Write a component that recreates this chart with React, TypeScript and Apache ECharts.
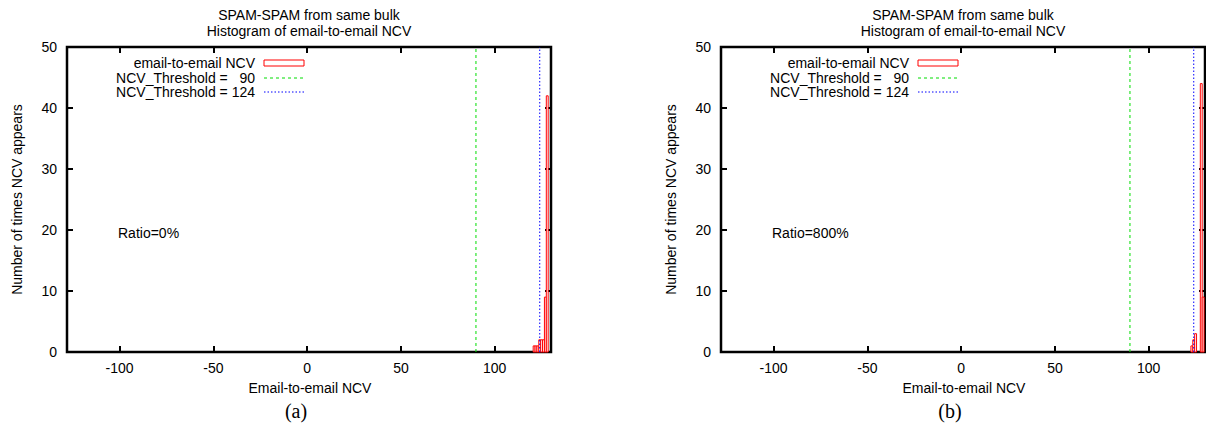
import React, { useEffect, useRef } from "react";
import * as echarts from "echarts";

// ---- data ----
const xMin = -128;
const xMax = 130;
const yMax = 50;
const binsA = [121, 122, 123, 124, 125, 126, 127, 128];
const countsA = [1, 1, 1, 2, 2, 2, 9, 42];
const binsB = [123, 124, 125, 128, 129];
const countsB = [1, 2, 3, 44, 9];
const threshold1 = 90;
const threshold2 = 124;
const titleLines = ["SPAM-SPAM from same bulk", "Histogram of email-to-email NCV"];
const xName = "Email-to-email NCV";
const yName = "Number of times NCV appears";
const legendLabels = ["email-to-email NCV", "NCV_Threshold =   90", "NCV_Threshold = 124"];
const ratioLabels = ["Ratio=0%", "Ratio=800%"];
const panelLabels = ["(a)", "(b)"];

const FONT = '"Liberation Sans", Arial, Helvetica, sans-serif';
const RED = "#ff0000";
const GREEN = "#00dd00";
const BLUE = "#0000ff";

const panels = [
  { left: 67, bins: binsA, counts: countsA, ratio: ratioLabels[0], label: panelLabels[0] },
  { left: 721, bins: binsB, counts: countsB, ratio: ratioLabels[1], label: panelLabels[1] },
];
const GRID_W = 484;
const GRID_TOP = 47;
const GRID_H = 305;

export default function App() {
  const ref = useRef<HTMLDivElement>(null);
  useEffect(() => {
    if (!ref.current) return;
    const chart = echarts.init(ref.current, null, { renderer: "svg" });
    const grids: any[] = [];
    const xAxes: any[] = [];
    const yAxes: any[] = [];
    const series: any[] = [];
    const graphic: any[] = [];

    panels.forEach((p, i) => {
      grids.push({
        left: p.left,
        top: GRID_TOP,
        width: GRID_W,
        height: GRID_H,
        show: true,
        borderColor: "#000",
        borderWidth: 2.5,
        backgroundColor: "#fff",
      });
      const tick = { show: true, inside: true, length: 6, lineStyle: { color: "#000", width: 2 } };
      const noLine = { show: false, onZero: false };
      xAxes.push({
        type: "value",
        gridIndex: i,
        position: "bottom",
        min: xMin,
        max: xMax,
        splitLine: { show: false },
        axisLine: noLine,
        axisTick: tick,
        axisLabel: {
          color: "#000",
          fontSize: 14,
          fontFamily: FONT,
          margin: 9,
          showMinLabel: false,
          showMaxLabel: false,
        },
      });
      xAxes.push({
        type: "value",
        gridIndex: i,
        position: "top",
        min: xMin,
        max: xMax,
        splitLine: { show: false },
        axisLine: noLine,
        axisTick: tick,
        axisLabel: { show: false },
      });
      yAxes.push({
        type: "value",
        gridIndex: i,
        position: "left",
        min: 0,
        max: yMax,
        interval: 10,
        splitLine: { show: false },
        axisLine: noLine,
        axisTick: tick,
        axisLabel: { color: "#000", fontSize: 14, fontFamily: FONT, margin: 10 },
      });
      yAxes.push({
        type: "value",
        gridIndex: i,
        position: "right",
        min: 0,
        max: yMax,
        interval: 10,
        splitLine: { show: false },
        axisLine: noLine,
        axisTick: tick,
        axisLabel: { show: false },
      });

      series.push({
        type: "custom",
        xAxisIndex: i * 2,
        yAxisIndex: i * 2,
        data: p.bins.map((b, k) => [b, p.counts[k]]),
        renderItem: (params: any, api: any) => {
          const x = api.value(0);
          const y = api.value(1);
          const p0 = api.coord([x - 0.5, y]);
          const p1 = api.coord([x + 0.5, 0]);
          return {
            type: "rect",
            shape: { x: p0[0], y: p0[1], width: p1[0] - p0[0], height: p1[1] - p0[1] },
            style: { fill: "#fff", stroke: RED, lineWidth: 1 },
          };
        },
        z: 3,
      });
      series.push({
        type: "line",
        xAxisIndex: i * 2,
        yAxisIndex: i * 2,
        data: [
          [threshold1, 0],
          [threshold1, yMax],
        ],
        symbol: "none",
        lineStyle: { color: GREEN, width: 1, type: [3, 3] },
        z: 2,
      });
      series.push({
        type: "line",
        xAxisIndex: i * 2,
        yAxisIndex: i * 2,
        data: [
          [threshold2, 0],
          [threshold2, yMax],
        ],
        symbol: "none",
        lineStyle: { color: BLUE, width: 1, type: [1.5, 2] },
        z: 4,
      });

      const cx = p.left + 242;
      const txt = (text: string, x: number, y: number, extra: any = {}) => ({
        type: "text",
        z: 10,
        style: {
          text,
          x,
          y,
          fill: "#000",
          fontSize: 14,
          fontFamily: FONT,
          align: "center",
          verticalAlign: "middle",
          ...extra,
        },
      });
      graphic.push(txt(titleLines[0], cx, 15));
      graphic.push(txt(titleLines[1], cx, 31));
      graphic.push(txt(xName, cx + 1, 388));
      graphic.push({
        type: "text",
        z: 10,
        x: p.left - 50,
        y: GRID_TOP + GRID_H / 2,
        rotation: Math.PI / 2,
        style: {
          text: yName,
          x: 0,
          y: 0,
          fill: "#000",
          fontSize: 14,
          fontFamily: FONT,
          align: "center",
          verticalAlign: "middle",
        },
      });
      graphic.push(
        txt(p.label, cx - 13, 411, {
          fontSize: 20,
          fontFamily: '"Liberation Serif", "DejaVu Serif", serif',
        })
      );
      graphic.push(txt(p.ratio, p.left + 51, 233, { align: "left" }));
      // legend
      const lx = p.left + 188;
      const sx = p.left + 197;
      graphic.push(txt(legendLabels[0], lx, 63, { align: "right" }));
      graphic.push(txt(legendLabels[1], lx, 78, { align: "right" }));
      graphic.push(txt(legendLabels[2], lx, 92, { align: "right" }));
      graphic.push({
        type: "rect",
        z: 10,
        shape: { x: sx, y: 60, width: 40, height: 6 },
        style: { fill: "#fff", stroke: RED, lineWidth: 1 },
      });
      graphic.push({
        type: "line",
        z: 10,
        shape: { x1: sx, y1: 78, x2: sx + 40, y2: 78 },
        style: { stroke: GREEN, lineWidth: 1, lineDash: [3, 3] },
      });
      graphic.push({
        type: "line",
        z: 10,
        shape: { x1: sx, y1: 92, x2: sx + 40, y2: 92 },
        style: { stroke: BLUE, lineWidth: 1, lineDash: [1.5, 2] },
      });
    });

    chart.setOption({
      animation: false,
      backgroundColor: "#fff",
      grid: grids,
      xAxis: xAxes,
      yAxis: yAxes,
      series,
      graphic,
    });
    return () => chart.dispose();
  }, []);
  return (
    <div
      ref={ref}
      style={{ position: "absolute", left: 0, top: 0, width: 1206, height: 429 }}
    />
  );
}
